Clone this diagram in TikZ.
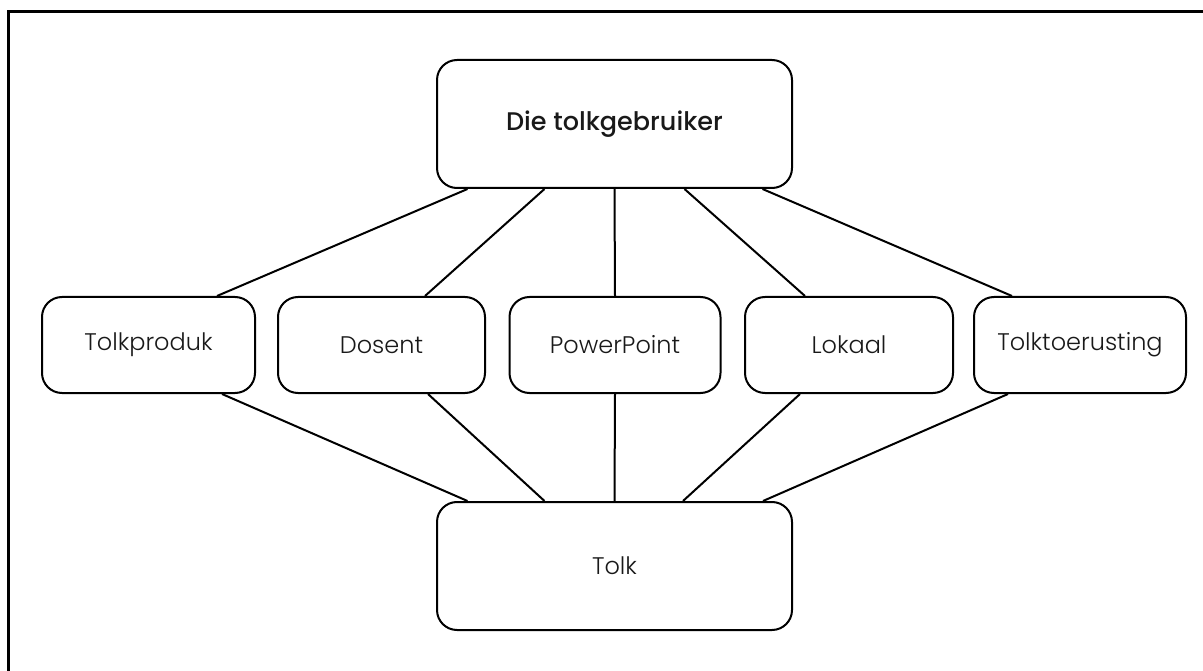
\documentclass[tikz,border=0pt]{standalone}
\usepackage{fontspec}
\setmainfont{Poppins}[UprightFont={Poppins Light}, BoldFont={Poppins Medium}]
\begin{document}
\begin{tikzpicture}[x=1pt,y=-1pt,
  box/.style={draw, line width=2pt, rounded corners=20pt, inner sep=0pt,
    font=\fontsize{24}{28}\selectfont, text=black!90},
  big/.style={box, minimum width=355pt, minimum height=128pt},
  mid/.style={box, minimum height=96pt},
  link/.style={line width=2pt}]
\useasboundingbox (0,0) rectangle (1203,671);
% frame
\draw[line width=3pt] (8,671) -- (8,12) -- (1203,12);
% nodes
\node[big, font=\fontsize{25.5}{30}\selectfont\bfseries] (user) at (614.5,124) {Die tolkgebruiker};
\node[mid, minimum width=213pt] (prod) at (148.5,345) {Tolkproduk};
\node[mid, minimum width=207pt] (dos) at (381.5,345) {Dosent};
\node[mid, minimum width=211pt] (ppt) at (615,345) {PowerPoint};
\node[mid, minimum width=208pt] (lok) at (849,345) {Lokaal};
\node[mid, minimum width=212pt] (equip) at (1080,345) {Tolktoerusting};
\node[big] (tolk) at (614.5,566) {Tolk};
% upper connectors
\draw[link] ([xshift=-147pt]user.south) -- ([xshift=68.5pt]prod.north);
\draw[link] ([xshift=-70pt]user.south) -- ([xshift=43.5pt]dos.north);
\draw[link] (user.south) -- (ppt.north);
\draw[link] ([xshift=70pt]user.south) -- ([xshift=-44pt]lok.north);
\draw[link] ([xshift=148pt]user.south) -- ([xshift=-68pt]equip.north);
% lower connectors
\draw[link] ([xshift=73.5pt]prod.south) -- ([xshift=-147pt]tolk.north);
\draw[link] ([xshift=46.5pt]dos.south) -- ([xshift=-70pt]tolk.north);
\draw[link] (ppt.south) -- (tolk.north);
\draw[link] ([xshift=-49pt]lok.south) -- ([xshift=68.5pt]tolk.north);
\draw[link] ([xshift=-72pt]equip.south) -- ([xshift=148.5pt]tolk.north);
\end{tikzpicture}
\end{document}
